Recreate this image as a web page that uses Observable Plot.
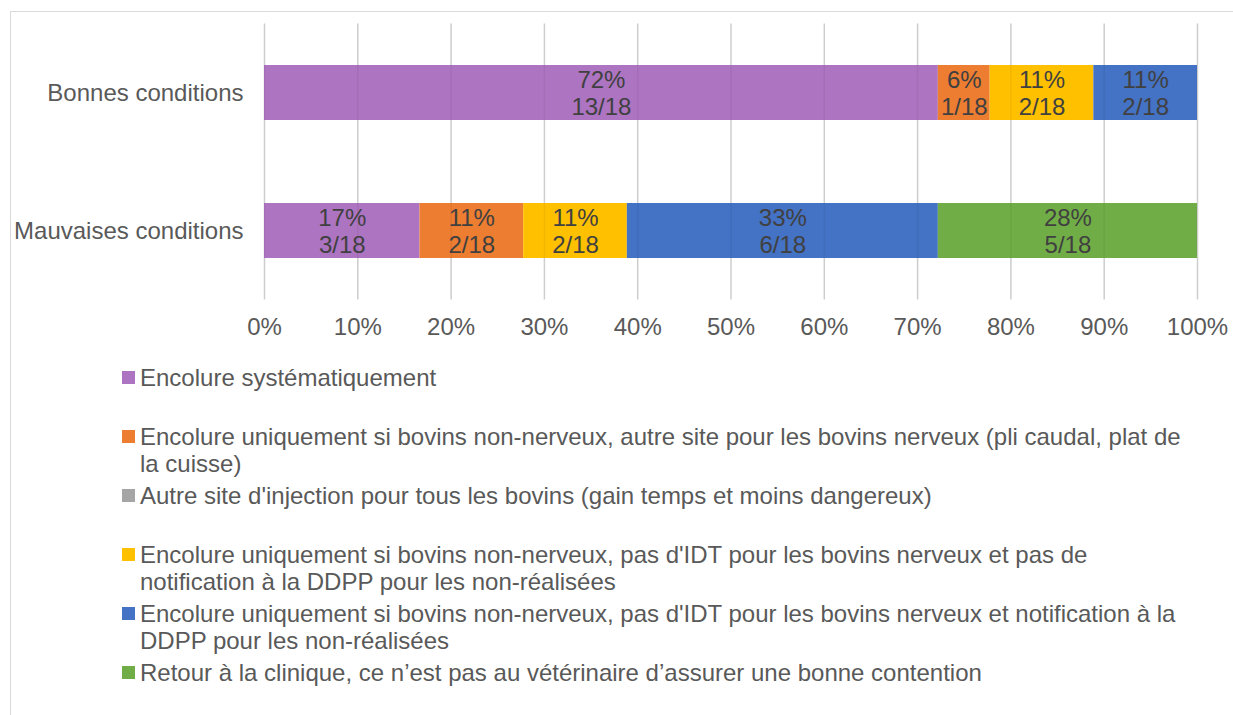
<!DOCTYPE html>
<html><head><meta charset="utf-8">
<script src="https://cdn.jsdelivr.net/npm/d3@7"></script>
<script src="https://cdn.jsdelivr.net/npm/@observablehq/plot@0.6"></script>
<style>
body{margin:0;background:#fff;font-family:"Liberation Sans",Arial,sans-serif;}
#frame{position:absolute;left:10px;top:11px;width:1300px;height:800px;border:1px solid #d9d9d9;}
#chart{position:absolute;left:0;top:0;}
#legend{position:absolute;left:122px;top:363.5px;width:1068px;}
.item{display:flex;height:59.2px;font-size:24px;line-height:27px;color:#595959;}
.sw{width:13px;height:13px;flex:none;margin-top:7px;margin-right:5px;}
</style></head><body>
<div id="frame"></div><div id="chart"></div><div id="legend"></div>
<script>
const categories = ["Bonnes conditions", "Mauvaises conditions"];
const series = [
  "Encolure systématiquement",
  "Encolure uniquement si bovins non-nerveux, autre site pour les bovins nerveux (pli caudal, plat de la cuisse)",
  "Autre site d'injection pour tous les bovins (gain temps et moins dangereux)",
  "Encolure uniquement si bovins non-nerveux, pas d'IDT pour les bovins nerveux et pas de notification à la DDPP pour les non-réalisées",
  "Encolure uniquement si bovins non-nerveux, pas d'IDT pour les bovins nerveux et notification à la DDPP pour les non-réalisées",
  "Retour à la clinique, ce n’est pas au vétérinaire d’assurer une bonne contention"
];
const colors = ["#ad74c1", "#ed7d31", "#a5a5a5", "#ffc000", "#4472c4", "#70ad47"];
const bonnesCounts = [13, 1, 0, 2, 2, 0];
const mauvaisesCounts = [3, 2, 0, 2, 6, 5];
const total = 18;
const xTicks = [0, 0.1, 0.2, 0.3, 0.4, 0.5, 0.6, 0.7, 0.8, 0.9, 1];

const countsByCat = [bonnesCounts, mauvaisesCounts];
const rows = [];
categories.forEach((cat, i) => {
  series.forEach((s, j) => {
    rows.push({cat, series: s, count: countsByCat[i][j], share: countsByCat[i][j] / total});
  });
});
const labelled = rows.filter(d => d.count > 0);

const chart = Plot.plot({
  width: 1233,
  height: 350,
  marginLeft: 264,
  marginRight: 36,
  marginTop: 23.6,
  marginBottom: 50.4,
  style: {fontSize: "24px", fontFamily: "'Liberation Sans', Arial, sans-serif", color: "#595959", background: "transparent"},
  x: {domain: [0, 1]},
  y: {domain: categories, paddingInner: 0.6, paddingOuter: 0.3},
  color: {domain: series, range: colors},
  marks: [
    Plot.gridX(xTicks, {stroke: "#d9d9d9", strokeOpacity: 1, strokeWidth: 1.5}),
    Plot.barX(rows, Plot.stackX({x: "share", y: "cat", fill: "series", order: null})),
    Plot.gridX(xTicks, {stroke: "#000", strokeOpacity: 0.05, strokeWidth: 1.5}),
    Plot.text(labelled, Plot.stackX({
      x: "share", y: "cat", z: "series", order: null,
      text: d => Math.round(d.count / total * 100) + "%\n" + d.count + "/" + total,
      fill: "#404040", fontSize: 24, lineHeight: 1.1
    })),
    Plot.axisX({ticks: xTicks, tickFormat: d3.format(".0%"), tickSize: 0, tickPadding: 18, label: null}),
    Plot.axisY({tickSize: 0, tickPadding: 21, label: null})
  ]
});
document.getElementById("chart").appendChild(chart);

const legend = document.getElementById("legend");
series.forEach((s, j) => {
  const item = document.createElement("div");
  item.className = "item";
  const sw = document.createElement("div");
  sw.className = "sw";
  sw.style.background = colors[j];
  const t = document.createElement("div");
  t.textContent = s;
  item.appendChild(sw);
  item.appendChild(t);
  legend.appendChild(item);
});
</script>
</body></html>
